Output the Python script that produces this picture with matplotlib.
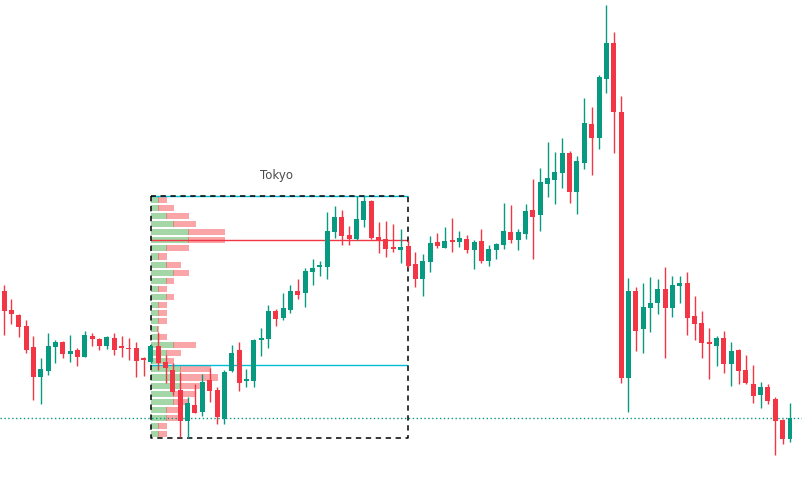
import numpy as np
import matplotlib.pyplot as plt

# OHLC (arbitrary price units, one bar per candle)
opens = [209, 190, 185, 174, 153, 123, 129, 153, 158, 146, 150, 143, 164, 161, 154, 162, 153, 152, 152, 141,
         138, 154, 138, 130, 110, 79, 95, 88, 120, 110, 81, 129, 150, 119.5, 119, 160.5, 161, 189, 182, 190,
         209, 207, 228, 233, 233, 268, 283, 265, 261, 280, 299, 263, 261, 252, 250, 254, 236, 221, 238, 258,
         252, 259, 258, 261, 250, 259, 239, 250, 255, 268, 260, 266, 290, 285, 316, 320, 327, 347, 308, 337,
         376, 362, 421, 457, 388, 122, 209, 171, 192, 197, 211, 192, 214, 217, 184, 177, 157, 154, 162, 136,
         150, 130, 116, 105, 113, 101, 80, 61]
highs = [215, 201, 186, 180, 164, 142, 167, 160, 159, 165, 152, 169, 167, 162, 164, 167, 164, 162, 158, 143,
         156, 168, 145, 137, 128, 103, 116, 126, 132, 113, 130, 155, 158, 131, 161, 172, 195, 191, 207, 215,
         221, 232, 241, 239, 288, 294, 290, 274, 304, 304, 300, 278, 279, 276, 271, 260, 248, 246, 264, 267,
         273, 282, 269, 265, 260, 271, 255, 257, 297, 295, 271, 296, 321, 332, 358, 348, 362, 349, 344, 402,
         393, 425, 495, 468, 404, 222, 213, 217, 223, 221, 233, 224, 224, 228, 204, 189, 172, 164, 169, 158,
         151, 145, 135, 118, 116, 103, 81, 97]
lows = [165, 176, 163, 147, 100, 96, 125, 137, 142, 138, 134, 143, 154, 150, 151, 145, 143, 140, 123, 124,
        137, 130, 117, 105, 63, 62, 87, 84, 98, 76, 76, 128, 109, 113, 113, 144, 152, 174, 180, 187,
        201, 193, 215, 224, 221, 262, 255, 255, 260, 273, 261, 247, 243, 248, 237, 232, 213, 204, 228, 252,
        252, 248, 253, 247, 231, 237, 234, 241, 251, 257, 250, 261, 241, 269, 303, 296, 312, 297, 286, 331,
        325, 351, 407, 347, 117, 88, 149, 147, 168, 186, 142, 183, 197, 165, 160, 142, 121, 134, 127, 114,
        116, 116, 97, 92, 96, 45, 56, 58]
closes = [189, 186, 173, 150, 123, 131, 154, 158, 146, 149, 143, 165, 161, 154, 163, 150, 152.5, 151, 139, 140.5,
          154, 137, 132, 108, 79, 97, 87, 118, 109, 83, 128, 147, 117, 120, 160, 161, 189, 181, 192, 209,
          205, 229, 232, 235, 269, 283, 264, 261, 281, 299, 262, 259, 251, 251.5, 253, 234, 221, 239, 257, 254,
          259, 258.5, 262, 250, 258, 239, 251, 256, 269, 260, 268, 289, 283, 318, 322, 328, 347, 308, 339, 377,
          362, 423, 457, 388, 122, 209, 169, 193, 197, 211, 192, 215, 217, 182, 176, 157, 156.5, 162, 136, 149,
          129, 117, 104, 113, 99, 79, 61, 82]

# Tokyo session: first and last bar of the box
session_start = 20
session_end = 55
session_name = "Tokyo"

# volume profile rows, top to bottom (buy / sell)
buy_vol = [1, 1, 2, 3, 5, 5, 2, 1, 2, 3, 2, 1, 2, 1, 1, 1, 0.85, 1, 3, 2, 2, 4, 4, 4, 3, 3, 2, 2, 1, 1]
sell_vol = [1, 2, 3, 3, 5, 5, 3, 1, 2, 2, 1, 1, 1, 1, 1, 1, 0.1, 1, 3, 2, 1, 4, 5, 3, 3, 2, 2, 2, 1, 1]

poc_level = 260
value_low_level = 134.7
last_level = 82

opens = np.array(opens)
highs = np.array(highs)
lows = np.array(lows)
closes = np.array(closes)
x = np.arange(len(opens))

fig = plt.figure(figsize=(8.03, 4.98), dpi=100)
ax = fig.add_axes([0, 0, 1, 1])
ax.set_xlim(-0.545, 108.77)
ax.set_ylim(2, 500)
ax.axis('off')

# candles
up = closes >= opens
colors = np.where(up, '#089981', '#f23645')
ax.vlines(x, lows, highs, color=colors, linewidth=1, zorder=3)
body_bottom = np.minimum(opens, closes)
body_height = np.maximum(np.abs(closes - opens), 1.5)
ax.bar(x, body_height, bottom=body_bottom, width=0.68, color=colors, zorder=4)

# session box
box_top = highs[session_start:session_end + 1].max()
box_bot = lows[session_start:session_end + 1].min()
left, right = session_start, session_end

# volume profile
n_rows = len(buy_vol)
edges = np.linspace(box_top, box_bot, n_rows + 1)
row_h = (box_top - box_bot) / n_rows
centers = (edges[:-1] + edges[1:]) / 2
sep = 0.14
buy_vol = np.array(buy_vol)
sell_vol = np.array(sell_vol)
ax.barh(centers, buy_vol, left=left, height=row_h * 0.75, color='#a5d6a7', zorder=1)
ax.barh(centers, sep, left=left + buy_vol, height=row_h * 0.75, color='#c9927c', zorder=1)
ax.barh(centers, sell_vol, left=left + buy_vol + sep, height=row_h * 0.75, color='#faa5a7', zorder=1)

# levels
ax.hlines(poc_level, left, right, color='#f23645', linewidth=1, zorder=2)
ax.hlines(value_low_level, left, right, color='#00bcd4', linewidth=1, zorder=2)
ax.axhline(last_level, color='#089981', linewidth=1, linestyle=(0, (1, 1.8)), zorder=2)

# box border
ax.hlines(box_top, left, right, color='#00bcd4', linewidth=1, zorder=2)
dash = (0, (3.5, 3))
ax.plot([left, left, right, right, left], [box_top, box_bot, box_bot, box_top, box_top],
        color='black', linewidth=1.1, linestyle=dash, zorder=2.5)

ax.text((left + right) / 2 - 0.45, box_top + 21, session_name, ha='center', va='center',
        fontsize=8.5, color='#4a4a4a')

plt.savefig('out.png', dpi=100)
